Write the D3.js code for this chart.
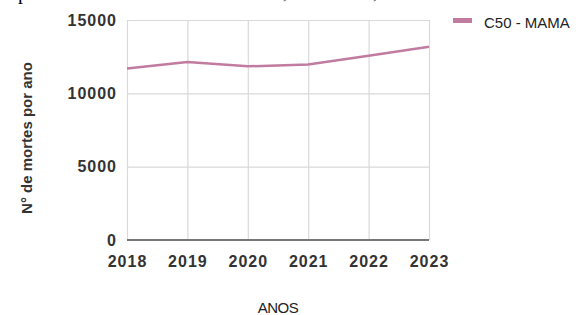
<!DOCTYPE html>
<html>
<head>
<meta charset="utf-8">
<script src="https://cdn.jsdelivr.net/npm/d3@7"></script>
<style>
  body { margin: 0; background: #fff; }
  svg { display: block; font-family: "Liberation Sans", Arial, sans-serif; }
  .grid line { stroke: #d9d9d9; stroke-width: 1.2; }
  .grid path { stroke: none; }
</style>
</head>
<body>
<div id="chart"></div>
<script>
// data
var years = [2018, 2019, 2020, 2021, 2022, 2023];
var deaths = [11700, 12130, 11840, 11970, 12570, 13180];
var yTicks = [0, 5000, 10000, 15000];
var seriesName = "C50 - MAMA";

var margin = { top: 20, right: 155, bottom: 75, left: 127 },
  width = 584 - margin.left - margin.right,
  height = 315 - margin.top - margin.bottom;

var root = d3.select("#chart")
  .append("svg")
  .attr("width", 584)
  .attr("height", 315);

// bits of the text line above, cut off by the crop
root.append("text").attr("x", 18).attr("y", -1)
  .style("font-family", "Liberation Serif").style("font-size", "20px").text("p");
root.append("text").attr("x", 283).attr("y", -2)
  .style("font-family", "Liberation Serif").style("font-size", "20px").text(",");
root.append("text").attr("x", 373).attr("y", -2)
  .style("font-family", "Liberation Serif").style("font-size", "20px").text(",");

var svg = root.append("g")
  .attr("transform", "translate(" + margin.left + "," + margin.top + ")");

var x = d3.scaleLinear()
  .domain([2018, 2023])
  .range([0, width]);

var y = d3.scaleLinear()
  .domain([0, 15000])
  .range([height, 0]);

// vertical gridlines
svg.append("g")
  .attr("class", "grid")
  .call(d3.axisBottom(x).tickValues(years).tickSize(height).tickFormat(""))
  .call(g => g.selectAll("line").attr("y1", 0).attr("y2", height));

// horizontal gridlines
svg.append("g")
  .attr("class", "grid")
  .call(d3.axisLeft(y).tickValues(yTicks).tickSize(-width).tickFormat(""));

// baseline
svg.append("line")
  .attr("x1", 0).attr("x2", width)
  .attr("y1", y(0)).attr("y2", y(0))
  .style("stroke", "#777")
  .style("stroke-width", 2);

// x tick labels
svg.append("g")
  .attr("transform", "translate(0," + height + ")")
  .call(d3.axisBottom(x).tickValues(years).tickFormat(d3.format("d")).tickSize(0).tickPadding(16))
  .call(g => g.select(".domain").remove())
  .selectAll("text")
  .style("font-size", "16px")
  .style("font-weight", "bold")
  .style("letter-spacing", "1px")
  .style("fill", "#333")
  .style("font-family", "Liberation Sans");

// y tick labels
svg.append("g")
  .call(d3.axisLeft(y).tickValues(yTicks).tickFormat(d3.format("d")).tickSize(0).tickPadding(10))
  .call(g => g.select(".domain").remove())
  .selectAll("text")
  .style("font-size", "16px")
  .style("font-weight", "bold")
  .style("letter-spacing", "1px")
  .style("fill", "#333")
  .style("font-family", "Liberation Sans");

// axis titles
svg.append("text")
  .attr("transform", "translate(" + (width / 2) + "," + (height + 73) + ")")
  .style("text-anchor", "middle")
  .style("font-size", "15px")
  .style("fill", "#222")
  .style("letter-spacing", "-0.5px")
  .text("ANOS");

svg.append("text")
  .attr("transform", "rotate(-90)")
  .attr("x", -(138 - margin.top))
  .attr("y", 32 - margin.left)
  .style("text-anchor", "middle")
  .style("font-size", "15px")
  .style("font-weight", "bold")
  .style("fill", "#333")
  .text("N° de mortes por ano");

// the series line
var line = d3.line()
  .x(function (d, i) { return x(years[i]); })
  .y(function (d) { return y(d); });

svg.append("path")
  .datum(deaths)
  .attr("fill", "none")
  .attr("stroke", "#c27ba0")
  .attr("stroke-width", 2.5)
  .attr("d", line);

// legend
root.append("rect")
  .attr("x", 453).attr("y", 18)
  .attr("width", 19).attr("height", 5)
  .style("fill", "#c27ba0");

root.append("text")
  .attr("x", 484).attr("y", 28)
  .style("font-size", "15px")
  .style("fill", "#222")
  .text(seriesName);
</script>
</body>
</html>
